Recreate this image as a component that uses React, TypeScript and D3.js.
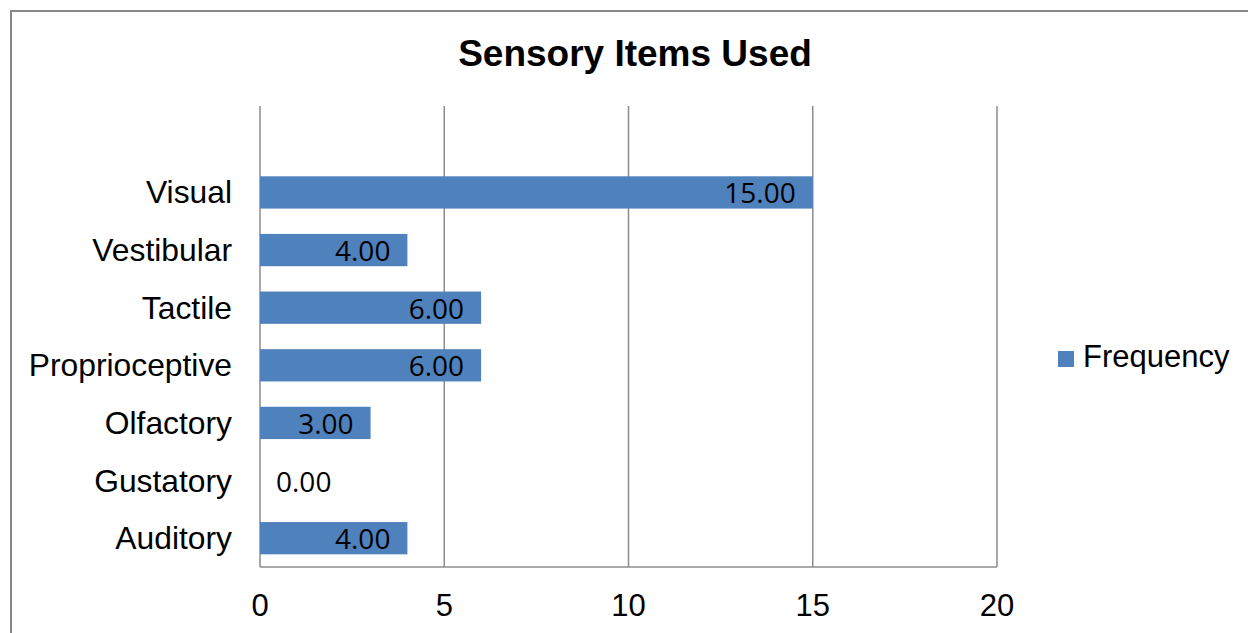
import React from 'react';
import * as d3 from 'd3';

const title = 'Sensory Items Used';
const seriesName = 'Frequency';
// top slot of the category axis is blank in the original
const categories = ['', 'Visual', 'Vestibular', 'Tactile', 'Proprioceptive', 'Olfactory', 'Gustatory', 'Auditory'];
const frequency: (number | null)[] = [null, 15, 4, 6, 6, 3, 0, 4];
const xTicks = [0, 5, 10, 15, 20];

const W = 1248;
const H = 633;
const plot = { left: 260, right: 997, top: 106, bottom: 567 };
const barColor = '#4F81BD';
const gridColor = '#8c8c8c';

export default function App() {
  const x = d3.scaleLinear().domain([0, 20]).range([plot.left, plot.right]);
  const y = d3.scaleBand<string>()
    .domain(categories.map((c, i) => `${i}`))
    .range([plot.top, plot.bottom])
    .paddingInner(0.44)
    .paddingOuter(0.22);

  return (
    <svg width={W} height={H} style={{ position: 'absolute', left: 0, top: 0, background: '#fff' }}>
      <rect x={11} y={11} width={1400} height={800} fill="#fff" stroke="#898989" strokeWidth={2} />
      <text x={635} y={66} textAnchor="middle" fontFamily="Liberation Sans, Arial" fontWeight="bold" fontSize={37}>
        {title}
      </text>
      {/* vertical gridlines */}
      {xTicks.map(t => (
        <line key={t} x1={x(t)} x2={x(t)} y1={plot.top} y2={plot.bottom} stroke={gridColor} strokeWidth={1.5} />
      ))}
      <line x1={plot.left} x2={plot.right} y1={plot.bottom} y2={plot.bottom} stroke={gridColor} strokeWidth={1.5} />
      {/* bars */}
      {categories.map((c, i) => {
        const v = frequency[i];
        const by = y(`${i}`)!;
        const cy = by + y.bandwidth() / 2;
        return (
          <g key={i}>
            {v !== null && v > 0 && (
              <rect x={x(0)} y={by} width={x(v) - x(0)} height={y.bandwidth()} fill={barColor} />
            )}
            {v !== null && (
              <text
                x={v > 0 ? x(v) - 17 : x(0) + 16}
                y={cy + 11}
                textAnchor={v > 0 ? 'end' : 'start'}
                fontFamily="Open Sans"
                fontSize={28}
                fill="#000"
              >
                {v.toFixed(2)}
              </text>
            )}
            <text x={232} y={cy + 11} textAnchor="end" fontFamily="Liberation Sans, Arial" fontSize={31.8} fill="#000">
              {c}
            </text>
          </g>
        );
      })}
      {/* x tick labels */}
      {xTicks.map(t => (
        <text key={t} x={x(t)} y={616} textAnchor="middle" fontFamily="Liberation Sans, Arial" fontSize={31} fill="#000">
          {t}
        </text>
      ))}
      {/* legend */}
      <rect x={1058} y={351} width={16} height={16} fill={barColor} />
      <text x={1083} y={367} fontFamily="Liberation Sans, Arial" fontSize={31} fill="#000">
        {seriesName}
      </text>
    </svg>
  );
}
